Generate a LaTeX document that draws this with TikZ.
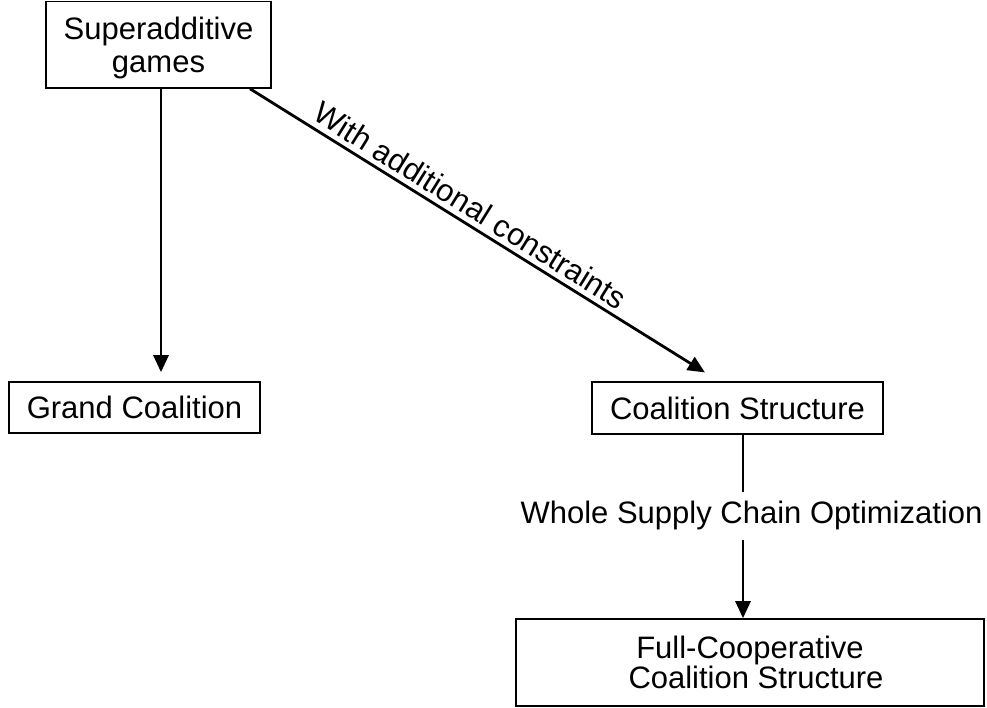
\documentclass[tikz,border=0pt]{standalone}
\usepackage{fontspec}
\setmainfont{Liberation Sans}
\usetikzlibrary{arrows.meta}
\begin{document}
\begin{tikzpicture}[x=1pt,y=-1pt,
  box/.style={draw, line width=1.6pt, inner sep=0pt, align=center, font=\fontsize{31}{33}\selectfont},
  conn/.style={line width=2.8pt, -{Triangle[length=17pt,width=15pt]}},
  thin/.style={line width=1.4pt},
  lbl/.style={font=\fontsize{31}{34}\selectfont, inner sep=0pt}
]
\useasboundingbox (0,0) rectangle (987,708);
\node[box, text depth=0pt, minimum width=225pt, minimum height=86.5pt] (sup) at (158.5,44.75) {Superadditive\\games};
\node[box, minimum width=251pt, minimum height=51pt] (grand) at (134.5,407.5) {Grand Coalition};
\node[box, minimum width=291pt, minimum height=52pt] (coal) at (737.5,408) {Coalition Structure};
\node[box, text depth=0pt, font=\fontsize{31}{30}\selectfont, minimum width=468pt, minimum height=87pt] (full) at (750,662.5) {Full-Cooperative\\\hspace*{12pt}Coalition Structure};
\node[lbl, text height=22pt, text depth=6.5pt, minimum height=48pt] (wsco) at (751.5,516) {Whole Supply Chain Optimization};
\coordinate (cx) at ([xshift=5.5pt]coal.south);

\draw[conn, shorten >=9pt] ([xshift=2.5pt]sup.south) -- ([xshift=26.5pt]grand.north);
\draw[conn, shorten >=16.6pt] ([xshift=91.5pt]sup.south) --
  node[lbl, sloped, above, pos=0.45, inner sep=5pt] (wac) {With additional constraints}
  ([xshift=-18.5pt]coal.north);
\draw[thin] (cx) -- (wsco.north -| cx);
\draw[conn] (wsco.south -| cx) -- (full.north -| cx);
\end{tikzpicture}
\end{document}
